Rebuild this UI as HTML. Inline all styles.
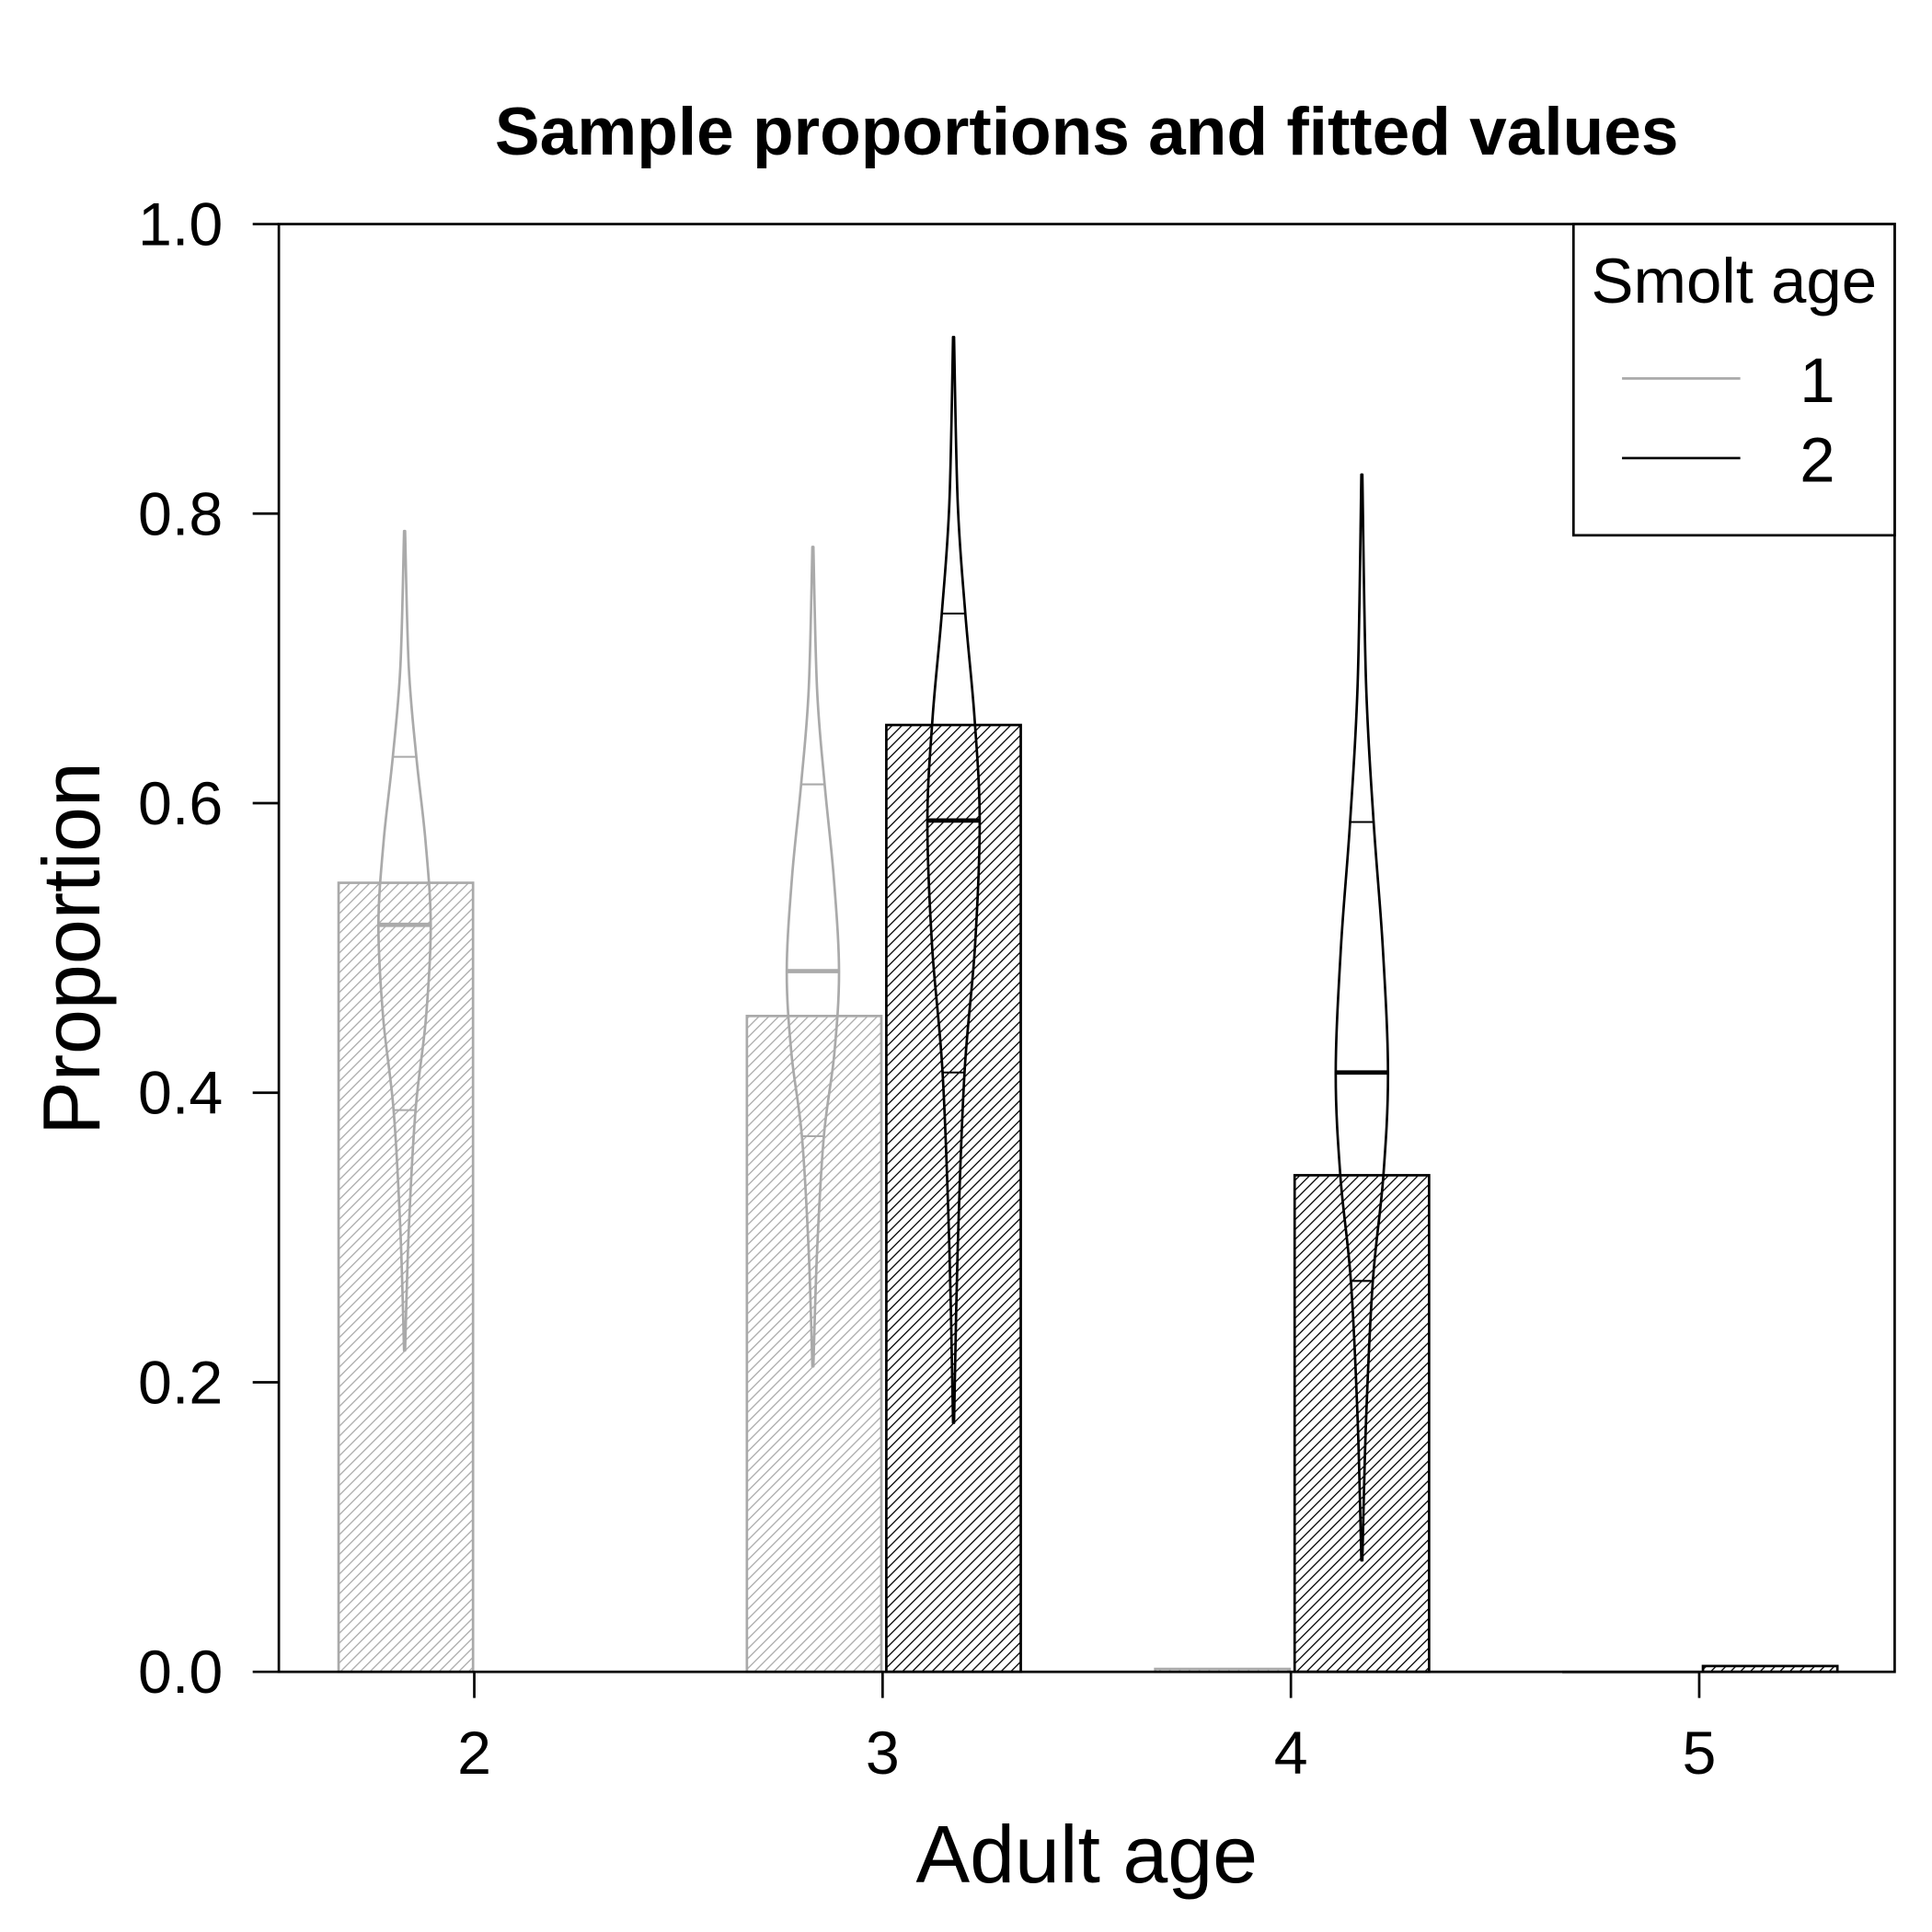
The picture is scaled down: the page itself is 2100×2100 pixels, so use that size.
<!DOCTYPE html>
<html><head><meta charset="utf-8"><style>
html,body{margin:0;padding:0;background:#fff}
svg{display:block}
text{font-family:"Liberation Sans",Arial,sans-serif}
</style></head><body>
<svg id="chart" width="2100" height="2100" viewBox="0 0 1552 1552" xmlns="http://www.w3.org/2000/svg">
<defs>
<pattern id="hatchGray" patternUnits="userSpaceOnUse" width="5.6" height="5.6" patternTransform="rotate(45)">
<line x1="0" y1="0" x2="0" y2="5.6" stroke="#aaaaaa" stroke-width="1.9"/></pattern>
<pattern id="hatchBlack" patternUnits="userSpaceOnUse" width="5.6" height="5.6" patternTransform="rotate(45)">
<line x1="0" y1="0" x2="0" y2="5.6" stroke="#000" stroke-width="1.9"/></pattern>
</defs>
<rect x="0" y="0" width="1552" height="1552" fill="#fff"/>
<text x="873" y="124" font-size="54" font-weight="bold" text-anchor="middle">Sample proportions and fitted values</text>
<g id="marks"></g>
<rect x="224" y="180" width="1298" height="1163" fill="none" stroke="#000" stroke-width="2"/>
<g id="axes"></g>
<text x="873" y="1512" font-size="65" text-anchor="middle">Adult age</text>
<text x="0" y="0" font-size="65" text-anchor="middle" transform="translate(80,762) rotate(-90)">Proportion</text>
<g>
<rect x="1264" y="180" width="258" height="250" fill="#fff" stroke="#000" stroke-width="2"/>
<text x="1393" y="243" font-size="51" text-anchor="middle">Smolt age</text>
<line x1="1303" y1="304" x2="1398" y2="304" stroke="#aaaaaa" stroke-width="2"/>
<text x="1460" y="323" font-size="51" text-anchor="middle">1</text>
<line x1="1303" y1="368" x2="1398" y2="368" stroke="#000" stroke-width="2"/>
<text x="1460" y="387" font-size="51" text-anchor="middle">2</text>
</g>
</svg>
<script>
const categories = [2, 3, 4, 5];
const smolt1Props = [0.545, 0.453, 0.002, 0];
const smolt2Props = [0, 0.654, 0.343, 0.004];
const yTicks = [0, 0.2, 0.4, 0.6, 0.8, 1.0];
const yTickLabels = ["0.0", "0.2", "0.4", "0.6", "0.8", "1.0"];
const violinCats = [2, 3, 3, 4];
const violinGroups = [1, 1, 2, 2];
const violinMin = [0.222, 0.211, 0.172, 0.077];
const violinLow = [0.388, 0.370, 0.414, 0.270];
const violinMed = [0.516, 0.484, 0.588, 0.414];
const violinHigh = [0.632, 0.613, 0.731, 0.587];
const violinMax = [0.788, 0.777, 0.922, 0.827];

const NS = "http://www.w3.org/2000/svg";
const y = v => 1343 - v * 1163;
const x = c => 381 + (c - 2) * 328;
const marks = document.getElementById('marks');
const axes = document.getElementById('axes');
function mk(tag, attrs, parent) {
  const e = document.createElementNS(NS, tag);
  for (const k in attrs) e.setAttribute(k, attrs[k]);
  parent.appendChild(e);
  return e;
}
categories.forEach((c, i) => {
  const b1 = mk('rect', {x: x(c) - 109, y: y(smolt1Props[i]), width: 108, height: Math.max(0.5, smolt1Props[i] * 1163), fill: 'url(#hatchGray)', stroke: '#aaaaaa', 'stroke-width': 2}, marks);
  
  
  if (smolt2Props[i] > 0) {
    const b2 = mk('rect', {x: x(c) + 3, y: y(smolt2Props[i]), width: 108, height: smolt2Props[i] * 1163, fill: 'url(#hatchBlack)', stroke: '#000', 'stroke-width': 2}, marks);
    
    
  }
});
function smooth(pts) {
  let d = 'M' + pts[0][0] + ' ' + pts[0][1];
  for (let i = 0; i < pts.length - 1; i++) {
    const p0 = pts[Math.max(0, i - 1)], p1 = pts[i], p2 = pts[i + 1], p3 = pts[Math.min(pts.length - 1, i + 2)];
    const c1x = p1[0] + (p2[0] - p0[0]) / 6, c1y = p1[1] + (p2[1] - p0[1]) / 6;
    const c2x = p2[0] - (p3[0] - p1[0]) / 6, c2y = p2[1] - (p3[1] - p1[1]) / 6;
    d += ' C' + c1x + ' ' + c1y + ' ' + c2x + ' ' + c2y + ' ' + p2[0] + ' ' + p2[1];
  }
  return d;
}
violinCats.forEach((c, i) => {
  const g = violinGroups[i];
  const cx = g === 1 ? x(c) - 56 : x(c) + 57;
  const col = g === 1 ? '#aaaaaa' : '#000';
  const W = 21;
  const mn = violinMin[i], lo = violinLow[i], md = violinMed[i], hi = violinHigh[i], mx = violinMax[i];
  const prof = [[mn, 0.4], [mn + (lo - mn) * 0.5, 0.16 * W], [lo, 0.42 * W], [(lo + md) / 2, 0.82 * W], [md, W], [(md + hi) / 2, 0.8 * W], [hi, 0.45 * W], [hi + (mx - hi) * 0.4, 0.16 * W], [mx, 0.4]];
  const left = prof.map(p => [cx - p[1], y(p[0])]);
  const right = prof.slice().reverse().map(p => [cx + p[1], y(p[0])]);
  const d = smooth(left) + ' L' + right[0][0] + ' ' + right[0][1] + ' ' + smooth(right).replace(/^M[^C]*/, '') + ' Z';
  const v = mk('path', {d: d, fill: 'none', stroke: col, 'stroke-width': 2, 'stroke-linejoin': 'round'}, marks);
  
  
  const wAt = val => {
    for (let k = 0; k < prof.length - 1; k++) {
      if (val >= prof[k][0] && val <= prof[k + 1][0]) {
        const t = (val - prof[k][0]) / (prof[k + 1][0] - prof[k][0]);
        return prof[k][1] + t * (prof[k + 1][1] - prof[k][1]);
      }
    }
    return 0;
  };
  [[lo, 1.5, 'q-low'], [md, 3.5, 'median'], [hi, 1.5, 'q-high']].forEach(q => {
    const w = wAt(q[0]);
    const l = mk('line', {x1: cx - w, x2: cx + w, y1: y(q[0]), y2: y(q[0]), stroke: col, 'stroke-width': q[1]}, marks);
    
    
  });
});
yTicks.forEach((t, i) => {
  const tl = mk('line', {x1: 203, x2: 224, y1: y(t), y2: y(t), stroke: '#000', 'stroke-width': 2}, axes);
  
  
  const tx = mk('text', {x: 179, y: y(t) + 17, 'font-size': 49, 'text-anchor': 'end'}, axes);
  tx.textContent = yTickLabels[i];
  
  
});
categories.forEach(c => {
  const tl = mk('line', {x1: x(c), x2: x(c), y1: 1343, y2: 1364, stroke: '#000', 'stroke-width': 2}, axes);
  
  
  const tx = mk('text', {x: x(c), y: 1425, 'font-size': 49, 'text-anchor': 'middle'}, axes);
  tx.textContent = String(c);
  
  
});
</script>
</body></html>
